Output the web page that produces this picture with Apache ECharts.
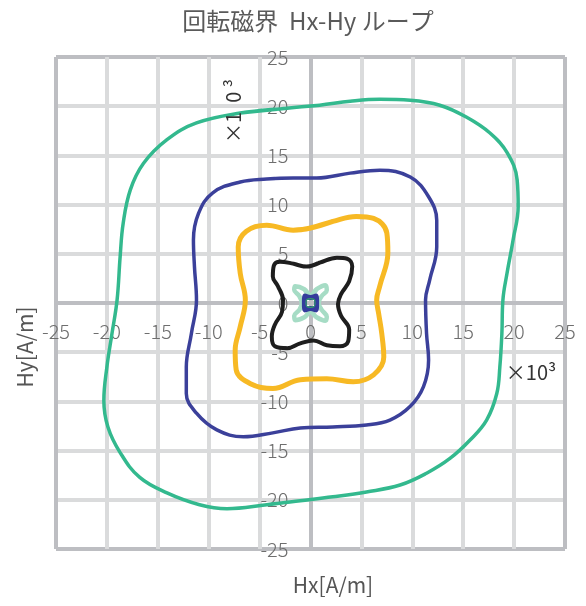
<!DOCTYPE html>
<html>
<head>
<meta charset="utf-8">
<script src="https://cdn.jsdelivr.net/npm/echarts@6/dist/echarts.min.js"></script>
<style>
  html, body { margin: 0; padding: 0; background: #fff; }
  #main { width: 586px; height: 606px; }
</style>
</head>
<body>
<div id="main"></div>
<script>
// Hx-Hy loops, values in x10^3 A/m
const greenLoop = [[-2.3,19.8],[0.9,20.1],[3.9,20.5],[6.8,20.7],[9.8,20.6],[12.7,20.1],[15.3,18.9],[17.6,17.3],[19.3,15.3],[20.3,12.5],[20.4,9.8],[19.9,6.4],[19.3,3.0],[18.9,0.3],[18.8,-3.1],[18.6,-6.5],[18.3,-9.2],[17.3,-11.9],[15.7,-13.9],[13.7,-15.8],[11.4,-17.3],[8.8,-18.5],[5.5,-19.2],[2.2,-19.7],[-1.0,-20.1],[-4.3,-20.5],[-8.2,-20.9],[-10.9,-20.5],[-14.1,-19.3],[-16.8,-17.7],[-18.7,-15.2],[-19.9,-12.6],[-20.3,-9.9],[-20.0,-6.5],[-19.5,-3.1],[-19.0,0.3],[-18.7,4.7],[-18.4,8.1],[-17.7,11.5],[-16.4,14.2],[-14.1,16.6],[-11.2,18.3],[-6.9,19.3],[-2.3,19.8]];
const navyLoop = [[-1.7,12.7],[0.6,12.7],[3.9,13.2],[6.8,13.5],[9.8,12.8],[11.6,10.8],[12.4,8.4],[12.4,5.7],[11.7,2.3],[11.3,0.3],[11.4,-3.1],[11.6,-5.8],[11.1,-8.5],[9.8,-10.5],[7.8,-11.9],[5.5,-12.4],[2.2,-12.6],[-1.0,-12.7],[-3.7,-13.2],[-6.6,-13.6],[-9.2,-12.9],[-11.2,-11.2],[-12.2,-9.2],[-12.2,-6.5],[-11.7,-3.1],[-11.2,0.3],[-11.4,3.7],[-11.5,6.4],[-11.0,9.1],[-9.6,11.2],[-6.9,12.3],[-4.3,12.6],[-1.7,12.7]];
const yellowLoop = [[-0.1,7.6],[2.2,8.3],[4.5,8.8],[6.2,8.6],[7.5,7.1],[7.6,5.1],[6.8,1.7],[6.5,0.3],[6.7,-1.1],[7.0,-3.1],[7.2,-5.5],[6.2,-7.3],[4.2,-8.0],[1.6,-7.7],[-1.0,-7.8],[-3.7,-8.7],[-5.9,-8.2],[-7.3,-6.8],[-7.4,-4.8],[-6.9,-2.4],[-6.4,0.3],[-6.9,3.0],[-7.1,5.7],[-6.3,7.3],[-4.3,7.9],[-1.7,7.4],[-0.1,7.6]];
const blackLoop = [[-0.4,3.7],[0.9,4.1],[2.6,4.6],[3.6,4.5],[4.1,3.7],[3.8,2.2],[3.0,0.9],[2.7,-0.1],[3.0,-1.3],[3.8,-2.7],[3.7,-3.9],[2.9,-4.4],[1.6,-4.3],[0.3,-3.8],[-1.0,-4.1],[-2.3,-4.6],[-3.5,-4.4],[-3.8,-3.4],[-3.5,-2.2],[-2.8,-0.9],[-2.7,0.3],[-3.2,1.7],[-3.7,2.7],[-3.6,3.8],[-3.0,4.2],[-1.7,4.0],[-0.4,3.7]];
const mintLoop = [[0,0.8],[0.6,1.4],[1.45,1.8],[1.6,1.3],[1.1,0.7],[0.8,0],[1.1,-0.7],[1.6,-1.4],[1.45,-1.8],[0.6,-1.45],[0,-0.9],[-0.6,-1.45],[-1.5,-1.75],[-1.6,-1.3],[-1.1,-0.7],[-0.85,0],[-1.1,0.7],[-1.6,1.35],[-1.5,1.7],[-0.6,1.4],[0,0.8]];
const tinyNavyLoop = [[0,0.55],[0.55,0.7],[0.6,0],[0.55,-0.7],[0,-0.55],[-0.55,-0.7],[-0.6,0],[-0.55,0.7],[0,0.55]];
const tinyGreenLoop = [[0,0.45],[0.35,0.35],[0.45,0],[0.35,-0.35],[0,-0.45],[-0.35,-0.35],[-0.45,0],[-0.35,0.35],[0,0.45]];

const font = "'Noto Sans CJK JP', 'Noto Sans', sans-serif";
const dark = '#bdbec2', light = '#dadbdc';
const gridColors = [dark, light, light, light, light, dark, light, light, light, light, dark];

const W = 586, H = 606;
const grid = { left: 56, right: 21, top: 57, bottom: 57 };

function loop(data, color, width) {
  // overlap one point on each end so the closing joint is smoothed too
  const closed = [data[data.length - 2]].concat(data, [data[1]]);
  return {
    type: 'line',
    data: closed,
    smooth: 0.4,
    showSymbol: false,
    silent: true,
    lineStyle: { color: color, width: width }
  };
}

// axes are pulled into the middle of the grid so the labels sit along the zero lines
function axis(margin, offset) {
  return {
    type: 'value',
    min: -25,
    max: 25,
    interval: 5,
    offset: offset,
    axisLine: { show: true, onZero: false, lineStyle: { color: dark, width: 4 } },
    axisTick: { show: false },
    axisLabel: { color: '#6e6e6e', fontSize: 20, fontFamily: font, fontWeight: 300, margin: margin },
    splitLine: { show: true, lineStyle: { color: gridColors, width: 4 } }
  };
}

const myChart = echarts.init(document.querySelector('#main'));
const option = {
  animation: false,
  grid: Object.assign({ containLabel: false }, grid),
  xAxis: Object.assign(axis(18, -(H - grid.top - grid.bottom) / 2), { position: 'bottom' }),
  yAxis: Object.assign(axis(22, -(W - grid.left - grid.right) / 2), { position: 'left' }),
  graphic: [
    { type: 'text', z: 100, x: 308, y: 21, style: { text: '回転磁界  Hx-Hy ループ', fill: '#5a5a5a', font: '24px ' + font, textAlign: 'center', textVerticalAlign: 'middle' } },
    { type: 'text', z: 100, x: 531, y: 372, style: { text: '×10³', fill: '#333', font: '20px ' + font, textAlign: 'center', textVerticalAlign: 'middle' } },
    { type: 'text', z: 100, x: 233, y: 111, rotation: Math.PI / 2, style: { text: '×1  0 ³', fill: '#333', font: '20px ' + font, textAlign: 'center', textVerticalAlign: 'middle' } },
    { type: 'text', z: 100, x: 333, y: 585, style: { text: 'Hx[A/m]', fill: '#555', font: '21px ' + font, textAlign: 'center', textVerticalAlign: 'middle' } },
    { type: 'text', z: 100, x: 25, y: 347, rotation: Math.PI / 2, style: { text: 'Hy[A/m]', fill: '#555', font: '21px ' + font, textAlign: 'center', textVerticalAlign: 'middle' } }
  ],
  series: [
    loop(greenLoop, '#33b98e', 3.5),
    loop(navyLoop, '#3b409a', 3.5),
    loop(yellowLoop, '#f7b924', 5),
    loop(blackLoop, '#1e1e1e', 4),
    loop(mintLoop, '#a6dcc5', 4.5),
    loop(tinyNavyLoop, '#343c9c', 5),
    loop(tinyGreenLoop, '#2f9a6a', 1.2)
  ]
};
option && myChart.setOption(option);
</script>
</body>
</html>
